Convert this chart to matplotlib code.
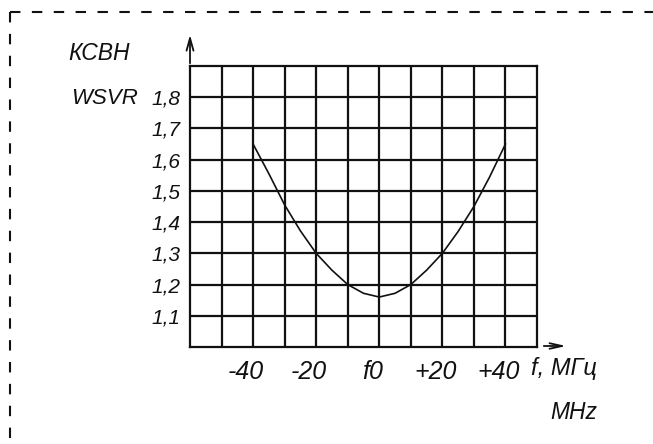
import numpy as np
import matplotlib
matplotlib.use("Agg")
import matplotlib.pyplot as plt
from matplotlib.lines import Line2D
import matplotlib.transforms as mtransforms

# VSWR vs frequency offset
f_offset = [-40, -35, -30, -25, -20, -15, -10, -5, 0, 5, 10, 15, 20, 25, 30, 35, 40]
vswr = [1.65, 1.555, 1.455, 1.372, 1.30, 1.246, 1.20, 1.172, 1.16,
        1.172, 1.20, 1.246, 1.30, 1.37, 1.45, 1.545, 1.65]

x_ticks = [-40, -20, 0, 20, 40]
x_labels = ["-40", "-20", "f0", "+20", "+40"]
y_ticks = [1.1, 1.2, 1.3, 1.4, 1.5, 1.6, 1.7, 1.8]
y_labels = ["1,1", "1,2", "1,3", "1,4", "1,5", "1,6", "1,7", "1,8"]

plt.rcParams['font.family'] = ['Liberation Sans', 'DejaVu Sans']
plt.rcParams['font.style'] = 'italic'

W, H = 653, 444
fig = plt.figure(figsize=(W / 100, H / 100), dpi=100)

# axes box in pixel coords of the reference
left, right, top, bottom = 190, 537, 66, 347
ax = fig.add_axes([left / W, 1 - bottom / H, (right - left) / W, (bottom - top) / H])

ink = "#111111"
grid_lw = 1.6

ax.set_xlim(-60, 50)
ax.set_ylim(1.0, 1.9)

# grid every 10 MHz and every 0.1
for xv in np.arange(-50, 50, 10):
    ax.axvline(xv, color=ink, lw=grid_lw, zorder=1)
for yv in np.arange(1.1, 1.85, 0.1):
    ax.axhline(yv, color=ink, lw=grid_lw, zorder=1)
for sp in ax.spines.values():
    sp.set_linewidth(grid_lw)
    sp.set_color(ink)

ax.plot(f_offset, vswr, color=ink, lw=1.2, zorder=3)

ax.set_xticks(x_ticks)
ax.set_xticklabels(x_labels, fontsize=18)
ax.set_yticks(y_ticks)
ax.set_yticklabels(y_labels, fontsize=15)
ax.tick_params(length=0, colors=ink)
ax.tick_params(axis='x', pad=9)
ax.tick_params(axis='y', pad=7)
offset = mtransforms.ScaledTranslation(-7 / 100, 0, fig.dpi_scale_trans)
for lab in ax.get_xticklabels():
    lab.set_transform(lab.get_transform() + offset)

# axis arrows
ax.annotate("", xy=(left / W, 1 - 32 / H), xytext=(left / W, 1 - top / H),
            xycoords='figure fraction', textcoords='figure fraction',
            arrowprops=dict(arrowstyle='->,head_length=0.9,head_width=0.25',
                            color=ink, lw=1.3))
ax.annotate("", xy=(569 / W, 1 - 346 / H), xytext=(541 / W, 1 - 346 / H),
            xycoords='figure fraction', textcoords='figure fraction',
            arrowprops=dict(arrowstyle='->,head_length=0.9,head_width=0.2',
                            color=ink, lw=1.3))

# axis titles
fig.text(99 / W, 1 - 54 / H, "КСВН", fontsize=16.5, ha='center', va='center', color=ink)
fig.text(105 / W, 1 - 98 / H, "WSVR", fontsize=16, ha='center', va='center', color=ink)
fig.text(564 / W, 1 - 369 / H, "f, МГц", fontsize=17, ha='center', va='center', color=ink)
fig.text(574 / W, 1 - 412 / H, "MHz", fontsize=16.5, ha='center', va='center', color=ink)

# dashed frame (top and left edges visible)
fig.add_artist(Line2D([10 / W, 1.0], [1 - 12 / H, 1 - 12 / H], transform=fig.transFigure,
                      color=ink, lw=1.5, linestyle=(0, (5, 5.5))))
fig.add_artist(Line2D([10 / W, 10 / W], [1 - 12 / H, 0.0], transform=fig.transFigure,
                      color=ink, lw=1.5, linestyle=(0, (5, 5.5))))

fig.savefig("out.png", dpi=100)
